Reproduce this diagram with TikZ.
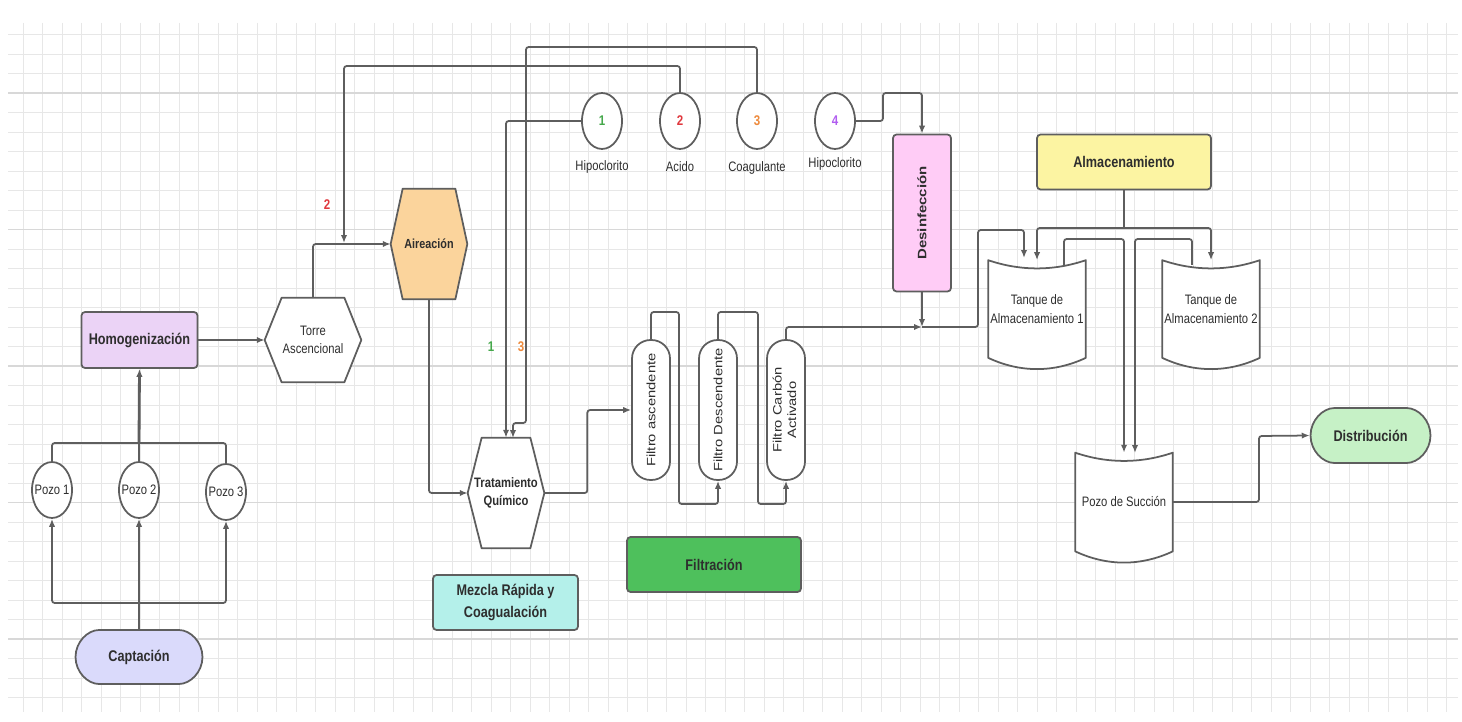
\documentclass[tikz,border=0pt]{standalone}
\usepackage{fontspec}
\setmainfont{Liberation Sans}[FakeStretch=0.82]
\newfontfamily\rotfont{Liberation Sans}
\usetikzlibrary{arrows.meta,shapes.geometric,shapes.misc}

\definecolor{gLinea}{HTML}{5E5E5E}
\definecolor{gTexto}{HTML}{2E2E2E}
\definecolor{gRejilla}{HTML}{E7E7E7}
\definecolor{gRejillaF}{HTML}{D8D8D8}
\definecolor{cCaptacion}{HTML}{DADAFB}
\definecolor{cHomog}{HTML}{EBD3F6}
\definecolor{cAireac}{HTML}{FBD49C}
\definecolor{cMezcla}{HTML}{B4F0EA}
\definecolor{cFiltrac}{HTML}{4EC05C}
\definecolor{cDesinf}{HTML}{FFCCF6}
\definecolor{cAlmacen}{HTML}{FCF4A2}
\definecolor{cDistrib}{HTML}{C6F1C6}
\definecolor{cNum1}{HTML}{45A84B}
\definecolor{cNum2}{HTML}{E0383E}
\definecolor{cNum3}{HTML}{EE8A3C}
\definecolor{cNum4}{HTML}{B15DF0}

\pgfdeclarelayer{rejilla}
\pgfdeclarelayer{formas}
\pgfsetlayers{rejilla,formas,main}

\tikzset{
  linea/.style={draw=gLinea, line width=1pt, rounded corners=1.5pt},
  flujo/.style={linea, -{Latex[length=4.5pt,width=3.6pt]}},
  etapa/.style={draw=gLinea, line width=1pt, rounded corners=2pt, inner sep=2pt, align=center,
    text=gTexto, font=\bfseries\fontsize{8.8}{12}\selectfont},
  capsula/.style={etapa, rounded rectangle},
  pozo/.style={ellipse, draw=gLinea, line width=1pt, fill=white, inner sep=0pt,
    minimum width=0.8cm, minimum height=1.12cm},
  nota/.style={text=gTexto, align=center, font=\fontsize{7.8}{10.4}\selectfont},
  numero/.style={font=\bfseries\fontsize{8}{10}\selectfont},
  marco/.style={inner sep=0pt, align=center, text=gTexto},
  filtro/.style={draw=gLinea, line width=1pt, fill=white, rounded corners=0.37cm, inner sep=0pt,
    minimum width=0.76cm, minimum height=2.8cm, text=gTexto, font=\rotfont\fontsize{8.4}{10}\selectfont},
  forma/.style={draw=gLinea, line width=1pt, line join=round},
}

% texto vertical, estrechado como en la captura
\newcommand{\vertical}[1]{\scalebox{0.82}[1]{\rotatebox{90}{#1}}}
% contorno hexagonal sobre un nodo sin borde
\newcommand{\hexagono}[3]{%
  \draw[forma, fill=#3] (#1.west) -- ([xshift=#2]#1.north west) -- ([xshift=-#2]#1.north east)
    -- (#1.east) -- ([xshift=-#2]#1.south east) -- ([xshift=#2]#1.south west) -- cycle;}
% contorno de tanque (tapa concava, fondo convexo)
\newcommand{\tanque}[1]{%
  \draw[forma, fill=white] (#1.north west) .. controls +(32,11) and +(-32,11) .. (#1.north east)
    -- (#1.south east) .. controls +(-32,15) and +(32,15) .. (#1.south west) -- cycle;}

\begin{document}
\begin{tikzpicture}[x=0.02cm, y=-0.02cm]
  \begin{pgfonlayer}{rejilla}
    \fill[white] (0,0) rectangle (1462,722);
    \foreach \gx in {23.3,42.8,...,1460}
      \draw[gRejilla, line width=0.5pt] (\gx,23) -- (\gx,712);
    \foreach \gy in {34.5,54,...,712}
      \draw[gRejilla, line width=0.5pt] (8,\gy) -- (1458,\gy);
    \foreach \gy in {93,229.5,...,712}
      \draw[gRejillaF, line width=0.6pt] (8,\gy) -- (1458,\gy);
  \end{pgfonlayer}
  \useasboundingbox (0,0) rectangle (1462,722);

  % captacion y pozos
  \node[capsula, fill=cCaptacion, minimum width=2.68cm, minimum height=1.08cm] (cap) at (139,657) {Captación};
  \node[pozo, label={[nota]center:Pozo 1}] (p1) at (52,490) {};
  \node[pozo, label={[nota]center:Pozo 2}] (p2) at (139,490) {};
  \node[pozo, label={[nota]center:Pozo 3}] (p3) at (226,492) {};
  \node[etapa, fill=cHomog, minimum width=2.32cm, minimum height=1.12cm] (hom) at (139.5,340) {Homogenización};

  % aireacion y mezcla
  \node[marco, minimum width=1.92cm, minimum height=1.68cm, font=\fontsize{7.8}{10.4}\selectfont] (torre) at (313,340) {Torre\\Ascencional};
  \node[marco, minimum width=1.52cm, minimum height=2.2cm, font=\bfseries\fontsize{7.5}{10}\selectfont] (aire) at (429,244) {Aireación};
  \node[marco, minimum width=1.52cm, minimum height=2.2cm, font=\bfseries\fontsize{7.8}{10.4}\selectfont] (trat) at (506,493) {Tratamiento\\Químico};
  \node[etapa, fill=cMezcla, minimum width=2.9cm, minimum height=1.1cm] (mez) at (505.5,602.5) {Mezcla Rápida y\\Coagualación};

  % dosificadores
  \node[pozo, label={[numero, text=cNum1]center:1}] (d1) at (602,121) {};
  \node[pozo, label={[numero, text=cNum2]center:2}] (d2) at (680,121) {};
  \node[pozo, label={[numero, text=cNum3]center:3}] (d3) at (757,121) {};
  \node[pozo, label={[numero, text=cNum4]center:4}] (d4) at (835,121) {};
  \node[nota] (h1) at (602,167) {Hipoclorito};
  \node[nota] (ac) at (680,167) {Acido};
  \node[nota] (co) at (757,168) {Coagulante};
  \node[nota] (h4) at (835,164) {Hipoclorito};
  \node[numero, text=cNum2] (n2) at (327,205) {2};
  \node[numero, text=cNum1] (n1) at (491,347) {1};
  \node[numero, text=cNum3] (n3) at (521,347) {3};

  % filtros
  \node[filtro] (fa) at (651,410) {\vertical{Filtro ascendente}};
  \node[filtro] (fd) at (718,410) {\vertical{Filtro Descendente}};
  \node[filtro] (fc) at (786,410) {\vertical{\begin{tabular}{@{}c@{}}Filtro Carbón\\Activado\end{tabular}}};
  \node[etapa, fill=cFiltrac, minimum width=3.48cm, minimum height=1.1cm] (fil) at (714,564.5) {Filtración};

  % desinfeccion y almacenamiento
  \node[etapa, fill=cDesinf, minimum width=1.16cm, minimum height=3.14cm] (des) at (922,213)
    {\vertical{\rotfont\bfseries\fontsize{8.5}{10}\selectfont Desinfección}};
  \node[etapa, fill=cAlmacen, minimum width=3.48cm, minimum height=1.1cm] (alm) at (1124,162) {Almacenamiento};
  \node[marco, minimum width=1.94cm, minimum height=1.94cm, font=\fontsize{7.8}{10.4}\selectfont] (tk1) at (1037,309) {Tanque de\\Almacenamiento 1};
  \node[marco, minimum width=1.94cm, minimum height=1.94cm, font=\fontsize{7.8}{10.4}\selectfont] (tk2) at (1211,309) {Tanque de\\Almacenamiento 2};
  \node[marco, minimum width=1.94cm, minimum height=1.96cm, font=\fontsize{7.8}{10.4}\selectfont] (ps) at (1124,502) {Pozo de Succión};
  \node[capsula, fill=cDistrib, minimum width=2.54cm, minimum height=1.1cm] (dis) at (1370.5,435.5) {Distribución};

  \begin{pgfonlayer}{formas}
    \hexagono{torre}{0.34cm}{white}
    \hexagono{aire}{0.24cm}{cAireac}
    \hexagono{trat}{0.28cm}{white}
    \tanque{tk1}
    \tanque{tk2}
    \tanque{ps}
  \end{pgfonlayer}

  % conexiones
  \coordinate (bcap) at (139,603);
  \draw[linea] (cap.north) -- (bcap);
  \draw[flujo] (bcap) -| (p1.south);
  \draw[flujo] (bcap) -- (p2.south);
  \draw[flujo] (bcap) -| (p3.south);
  \coordinate (bpozo) at (139,443);
  \draw[linea] (p1.north) |- (bpozo) -| (p3.north);
  \draw[linea] (p2.north) -- (bpozo);
  \draw[flujo, line width=1.6pt] (bpozo) -- (hom.south);

  \draw[flujo] (hom.east) -- (torre.west);
  \draw[flujo] (torre.north) |- (aire.west);
  \draw[flujo] (aire.south) |- (trat.west);
  \draw[flujo] (trat.east) -- ++(43,0) |- (fa.west);
  \draw[flujo] (fa.north) |- (679,312) |- (718,504) -- (fd.south);
  \draw[flujo] (fd.north) |- (758,312) |- (786,504) -- (fc.south);
  \coordinate (jdes) at (922,327);
  \draw[flujo] (fc.north) |- (jdes);
  \draw[flujo] (des.south) -- (jdes);
  \draw[flujo] (jdes) -| (978,230) -| (1024,258);

  % dosificacion
  \draw[flujo] (d1.west) -| (trat.north);
  \draw[flujo] (d2.north) |- (344,66) -- (344,243);
  \draw[flujo] (d3.north) |- (526,47) |- (513,423) -- (513,438);
  \draw[flujo] (d4.east) -| (883,93) -| (des.north);

  % almacenamiento
  \coordinate (balm) at (1124,228);
  \draw[linea] (alm.south) -- (balm);
  \draw[flujo] (balm) -| (tk1.north);
  \draw[flujo] (balm) -| (tk2.north);
  \coordinate (s1) at (1064,265);
  \coordinate (s2) at (1192,265);
  \draw[flujo] (s1) |- (1124,239) -- (ps.north);
  \draw[flujo] (s2) |- (1135,239) -- (1135,453);
  \draw[flujo] (ps.east) -| (1259,436) -- (dis.west);
\end{tikzpicture}
\end{document}
